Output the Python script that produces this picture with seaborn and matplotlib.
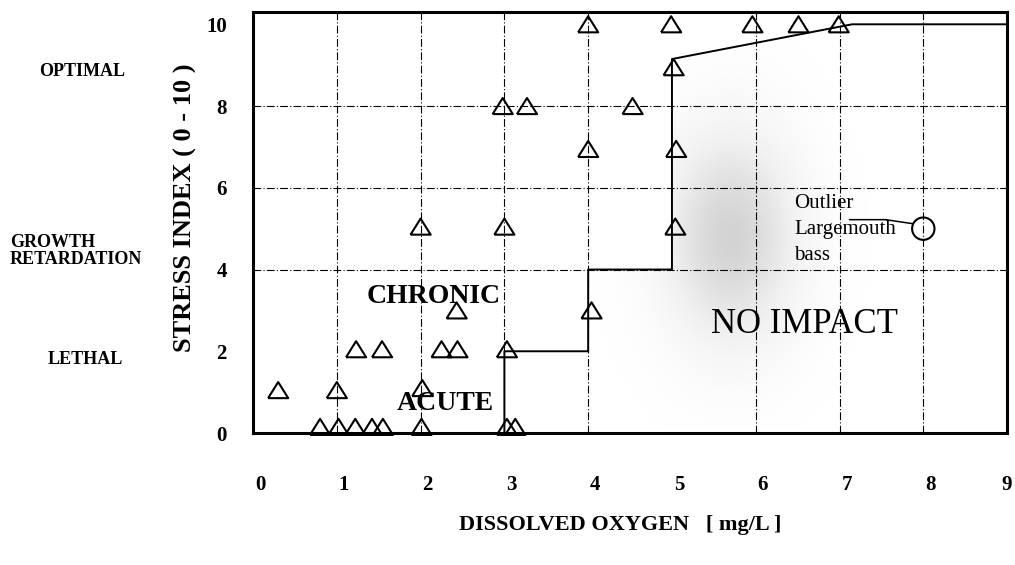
import numpy as np
import pandas as pd
import matplotlib
matplotlib.use("Agg")
import matplotlib.pyplot as plt
import seaborn as sns
from matplotlib.patches import Polygon
from matplotlib.transforms import blended_transform_factory, ScaledTranslation

# ---------------- data ----------------
fish_do = [0.80, 1.02, 1.22, 1.42, 1.55, 2.01, 3.03, 3.13,
           0.30, 1.00, 2.02,
           1.23, 1.54, 2.25, 2.44, 3.03,
           2.43, 4.04,
           2.00, 3.00, 5.04,
           4.00, 5.05,
           2.98, 3.27, 4.53,
           5.02,
           4.00, 4.99, 5.96, 6.51, 6.99]
fish_stress = [0.15, 0.15, 0.15, 0.15, 0.15, 0.15, 0.15, 0.15,
               1.05, 1.05, 1.10,
               2.05, 2.05, 2.05, 2.05, 2.05,
               3.00, 3.00,
               5.05, 5.05, 5.05,
               6.95, 6.95,
               8.00, 8.00, 8.00,
               8.95,
               10.0, 10.0, 10.0, 10.0, 10.0]

outlier_do = [8.0]
outlier_stress = [5.0]

boundary_do = [3.0, 3.0, 4.0, 4.0, 5.0, 5.0, 7.15, 9.0]
boundary_stress = [0.0, 2.0, 2.0, 4.0, 4.0, 9.15, 10.0, 10.0]

x_ticks = [0, 1, 2, 3, 4, 5, 6, 7, 8, 9]
y_ticks = [0, 2, 4, 6, 8, 10]
v_grid = [1, 2, 3, 4, 6, 7, 8]
h_grid = [4, 6, 8]

status_labels = ["OPTIMAL", "GROWTH\nRETARDATION", "LETHAL"]
status_levels = [8.85, 4.45, 1.8]

# ---------------- figure ----------------
sns.set_theme(style="white")
plt.rcParams["font.family"] = ["Liberation Serif", "DejaVu Serif"]
plt.rcParams["text.color"] = "black"
plt.rcParams["axes.labelcolor"] = "black"
plt.rcParams["xtick.color"] = "black"
plt.rcParams["ytick.color"] = "black"

fig = plt.figure(figsize=(10.15, 5.65), dpi=100)
ax = fig.add_axes([0.2493, 0.2336, 0.7429, 0.7451])

# stippled "no impact" zone approximated by a soft gray shading
gx = np.linspace(4, 9, 300)
gy = np.linspace(0, 10.3, 300)
GX, GY = np.meshgrid(gx, gy)
shade = np.exp(-(((GX - 5.7) / 0.8) ** 2 + ((GY - 4.8) / 2.6) ** 2))
img = ax.imshow(shade, extent=(4, 9, 0, 10.3), origin="lower", cmap="Greys",
                vmin=0, vmax=3.6, aspect="auto", zorder=0, interpolation="bilinear")
zone = Polygon(list(zip(boundary_do[2:], boundary_stress[2:])) + [(9.0, 0.0), (4.0, 0.0)],
               closed=True, transform=ax.transData, facecolor="none", edgecolor="none")
ax.add_patch(zone)
img.set_clip_path(zone)

# dash-dot grid
for gxv in v_grid:
    ax.axvline(gxv, color="black", lw=0.8, ls=(0, (7, 2, 1, 2)), zorder=1)
for gyv in h_grid:
    ax.axhline(gyv, color="black", lw=0.8, ls=(0, (7, 2, 1, 2)), zorder=1)

# boundary line
bdf = pd.DataFrame({"do": boundary_do, "stress": boundary_stress})
sns.lineplot(data=bdf, x="do", y="stress", sort=False, color="black", lw=1.4,
             ax=ax, zorder=3, estimator=None)

# observations (open triangles)
tri = [(-1.0, -0.8), (1.0, -0.8), (0.0, 0.8), (-1.0, -0.8)]
fdf = pd.DataFrame({"do": fish_do, "stress": fish_stress})
sns.scatterplot(data=fdf, x="do", y="stress", marker=tri, s=210,
                facecolor="none", edgecolor="black", linewidth=1.5, ax=ax, zorder=4,
                clip_on=False)

# outlier (open circle)
odf = pd.DataFrame({"do": outlier_do, "stress": outlier_stress})
sns.scatterplot(data=odf, x="do", y="stress", marker="o", s=260,
                facecolor="none", edgecolor="black", linewidth=1.5, ax=ax, zorder=4)
ax.plot([7.12, 7.55, 7.88], [5.22, 5.22, 5.12], color="black", lw=1.1, zorder=4)
ax.text(6.46, 5.85, "Outlier\nLargemouth\nbass", fontsize=15, va="top", ha="left",
        linespacing=1.5, zorder=5)

# zone labels
ax.text(2.16, 3.34, "CHRONIC", fontsize=20, fontweight="bold", ha="center", va="center", zorder=5)
ax.text(2.30, 0.71, "ACUTE", fontsize=20, fontweight="bold", ha="center", va="center", zorder=5)
ax.text(6.58, 2.65, "NO IMPACT", fontsize=25, ha="center", va="center", zorder=5)

# status labels at the left
btr = blended_transform_factory(fig.transFigure, ax.transData)
fig.text(82 / 1015, status_levels[0], status_labels[0], transform=btr, fontsize=13,
         fontweight="bold", ha="center", va="center")
fig.text(10 / 1015, status_levels[1], status_labels[1], transform=btr, fontsize=13,
         fontweight="bold", ha="left", va="center", multialignment="left", linespacing=1.05)
fig.text(85 / 1015, status_levels[2], status_labels[2], transform=btr, fontsize=13,
         fontweight="bold", ha="center", va="center")

# axes
ax.set_xlim(0, 9)
ax.set_ylim(0, 10.3)
ax.set_xticks(x_ticks)
ax.set_yticks(y_ticks)
ax.set_xticklabels([str(v) for v in x_ticks], fontsize=15, fontweight="bold")
ax.set_yticklabels([str(v) for v in y_ticks], fontsize=15, fontweight="bold")
ax.tick_params(axis="x", length=0, pad=30, colors="black")
ax.tick_params(axis="y", length=0, pad=19, colors="black")
xlabs = ax.get_xticklabels()
for i, lab in enumerate(xlabs):
    shift = 7 if i < len(xlabs) - 1 else 0
    lab.set_transform(lab.get_transform() + ScaledTranslation(shift / 100, 0, fig.dpi_scale_trans))
ax.grid(False)

ax.set_xlabel("DISSOLVED OXYGEN   [ mg/L ]", fontsize=16, fontweight="bold", color="black")
ax.set_ylabel("STRESS INDEX ( 0 - 10 )", fontsize=19, fontweight="bold", color="black")
ax.xaxis.set_label_coords(0.487, -0.195)
ax.yaxis.set_label_coords(-0.074, 0.534)

for sp in ax.spines.values():
    sp.set_visible(True)
    sp.set_color("black")
    sp.set_linewidth(2.2)

fig.savefig("out.png", dpi=100, facecolor="white")
